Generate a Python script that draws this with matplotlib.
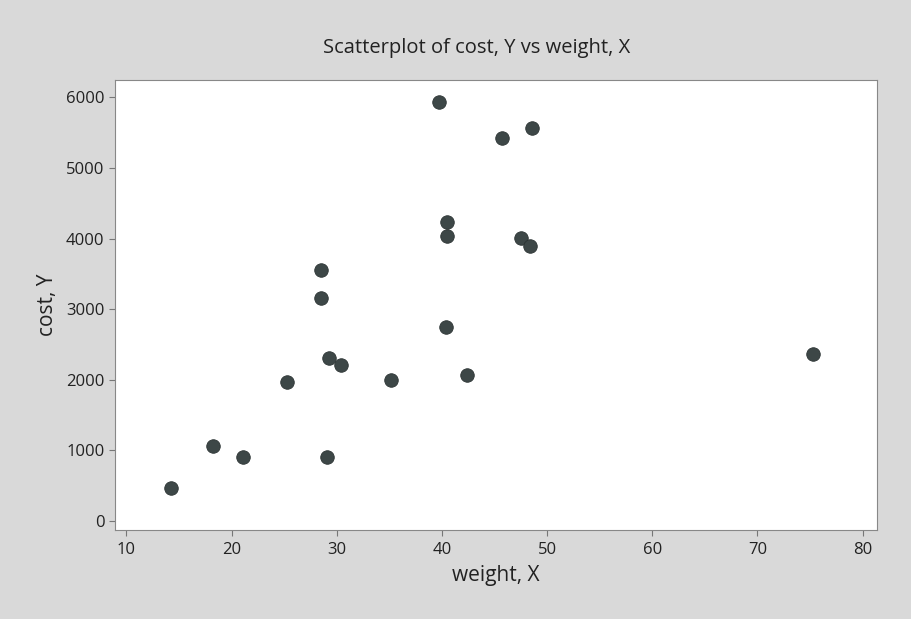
import matplotlib
matplotlib.use("Agg")
import matplotlib.pyplot as plt

weight = [14.2, 18.2, 21.1, 25.3, 28.5, 28.5, 29.3, 29.1, 30.4, 35.2,
          39.7, 40.4, 40.5, 40.5, 42.4, 45.7, 47.5, 48.4, 48.6, 75.3]
cost = [470, 1065, 910, 1960, 3560, 3160, 2300, 910, 2210, 2000,
        5930, 2740, 4230, 4030, 2070, 5420, 4010, 3900, 5570, 2370]
xticks = [10, 20, 30, 40, 50, 60, 70, 80]
yticks = [0, 1000, 2000, 3000, 4000, 5000, 6000]

plt.rcParams['font.family'] = ['Open Sans', 'DejaVu Sans']

fig = plt.figure(figsize=(9.12, 6.19), dpi=100, facecolor='#d9d9d9')
ax = fig.add_axes([0.126, 0.144, 0.836, 0.727])
ax.set_facecolor('white')
ax.scatter(weight, cost, s=95, color='#3d4747', edgecolors='#2c3434', linewidths=0.6, zorder=3)
ax.set_xlim(8.9, 81.4)
ax.set_ylim(-130, 6250)
ax.set_xticks(xticks)
ax.set_yticks(yticks)
ax.tick_params(axis='both', direction='out', length=4, width=0.8, color='#777777',
               labelsize=12, labelcolor='#222222')
ax.tick_params(axis='x', pad=5)
for s in ax.spines.values():
    s.set_color('#888888')
    s.set_linewidth(0.8)
ax.set_title('Scatterplot of cost, Y vs weight, X', fontsize=14.5, color='#222222',
             pad=19, x=0.475)
ax.set_xlabel('weight, X', fontsize=15, color='#222222', labelpad=5)
ax.set_ylabel('cost, Y', fontsize=15, color='#222222', labelpad=6)
fig.savefig('out.png', dpi=100, facecolor=fig.get_facecolor())
